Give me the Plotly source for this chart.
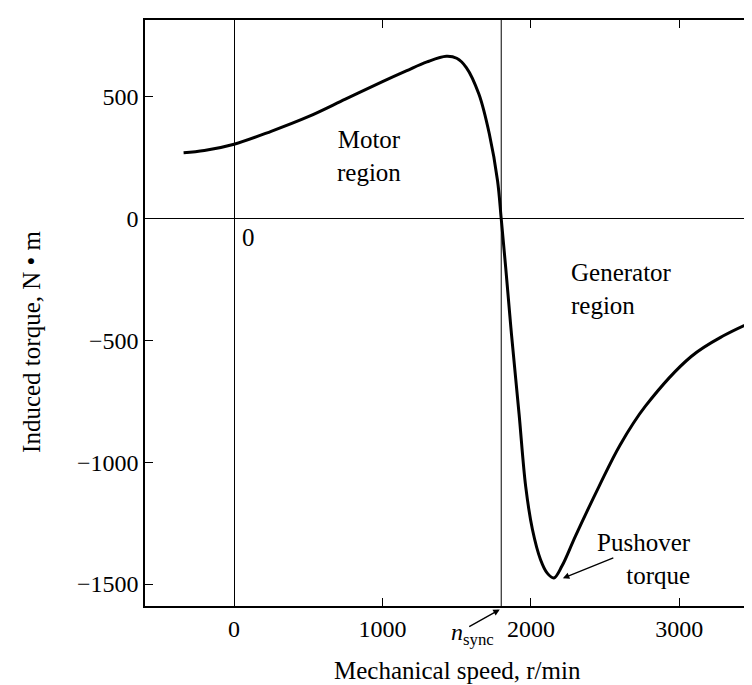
import plotly.graph_objects as go

# torque-speed characteristic
speed = [-340, -200, 0, 250, 500, 750, 1000, 1160, 1300, 1430, 1500, 1565, 1650, 1720,
         1775, 1800, 1830, 1870, 1920, 1965, 2010, 2065, 2110, 2155, 2210, 2300, 2460,
         2600, 2770, 3080, 3300, 3520]
torque = [270, 279, 305, 358, 418, 490, 562, 606, 643, 666, 658, 620, 510, 347,
          156, 0, -200, -480, -800, -1100, -1275, -1400, -1455, -1475, -1425, -1303, -1098,
          -930, -771, -566, -480, -416]

x_ticks = [0, 1000, 2000, 3000]
y_ticks = [-1500, -1000, -500, 0, 500]
n_sync = 1800

FONT = "Liberation Serif"
SIZE = 25

fig = go.Figure()
fig.add_trace(go.Scatter(x=speed, y=torque, mode="lines", line_shape="spline",
                         line=dict(color="black", width=3), showlegend=False))

# synchronous speed marker
fig.add_shape(type="line", x0=n_sync, x1=n_sync, y0=0, y1=1, yref="paper",
              line=dict(color="black", width=1))

notes = [
    dict(x=907, y=255, text="Motor<br>region", xanchor="center", align="center"),
    dict(x=99, y=-76, text="0", xanchor="center"),
    dict(x=2257, y=-290, text="Generator<br>region", xanchor="left", align="left"),
    dict(x=3090, y=-1397, text="Pushover<br>torque", xanchor="right", align="right"),
]
for n in notes:
    fig.add_annotation(showarrow=False, font=dict(family=FONT, size=SIZE, color="black"),
                       yanchor="middle", **n)

fig.add_annotation(xref="paper", yref="paper", x=0.535, y=-0.047, showarrow=False,
                   text="<i>n</i><sub>sync</sub>", xanchor="center", yanchor="middle",
                   font=dict(family=FONT, size=24, color="black"))

# arrows
fig.add_annotation(x=2215, y=-1476, ax=52, ay=-21, text="", showarrow=True,
                   arrowhead=2, arrowsize=1, arrowwidth=1.3, arrowcolor="black")
fig.add_annotation(x=1790, y=-0.006, yref="paper", ax=-32, ay=18, text="", showarrow=True,
                   arrowhead=2, arrowsize=1, arrowwidth=1.3, arrowcolor="black")

# axis titles
fig.add_annotation(xref="paper", yref="paper", x=0.51, y=-0.11, showarrow=False,
                   text="Mechanical speed, r/min", yanchor="middle",
                   font=dict(family=FONT, size=SIZE, color="black"))
fig.add_annotation(xref="paper", yref="paper", x=-0.185, y=0.45, showarrow=False,
                   text="Induced torque, N \u2022 m", textangle=-90, xanchor="center",
                   font=dict(family=FONT, size=SIZE, color="black"))

axis_common = dict(showgrid=False, showline=True, linecolor="black", linewidth=1.5,
                   mirror="ticks", ticks="inside", ticklen=8, tickcolor="black",
                   tickwidth=1.2, zeroline=True, zerolinecolor="black", zerolinewidth=1,
                   tickfont=dict(family=FONT, size=24, color="black"))

fig.update_layout(
    width=752, height=685,
    margin=dict(l=137, r=0, t=12, b=87),
    plot_bgcolor="white", paper_bgcolor="white",
    xaxis=dict(range=[-600, 3530], tickvals=x_ticks, **axis_common),
    yaxis=dict(range=[-1590, 815], tickvals=y_ticks, **axis_common),
)

fig.write_html("out.html")
